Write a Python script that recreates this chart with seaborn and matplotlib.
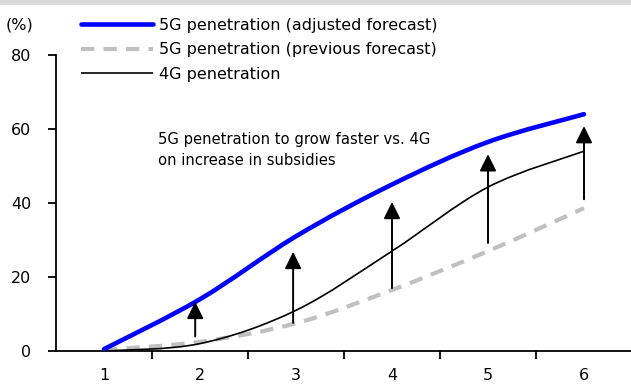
import numpy as np
import matplotlib
matplotlib.use("Agg")
import matplotlib.pyplot as plt
from matplotlib.path import Path
from matplotlib.patches import PathPatch, Rectangle
from matplotlib.lines import Line2D
import seaborn as sns

# Penetration forecasts (%) by year index
years = [1, 2, 3, 4, 5, 6]
g5_adjusted = [0.5, 14.0, 31.0, 45.0, 56.5, 64.0]
g5_previous = [0.3, 2.5, 7.5, 16.5, 27.0, 38.6]
g4_penetration = [0.0, 2.0, 11.0, 27.0, 44.3, 54.0]

# Upward arrows: (x, start, end)
arrow_x = [1.95, 2.97, 4.0, 5.0, 6.0]
arrow_from = [3.9, 7.6, 17.0, 29.2, 41.0]
arrow_to = [13.3, 26.8, 40.3, 53.2, 60.8]

labels = ["5G penetration (adjusted forecast)",
          "5G penetration (previous forecast)",
          "4G penetration"]
note = "5G penetration to grow faster vs. 4G\non increase in subsidies"

sns.set_theme(style="white")
plt.rcParams["font.family"] = ["DejaVu Sans"]
plt.rcParams["text.color"] = "black"
plt.rcParams["xtick.color"] = "black"
plt.rcParams["ytick.color"] = "black"

W, H = 631, 385
fig = plt.figure(figsize=(W / 100, H / 100), dpi=100)
ax = fig.add_axes([56 / W, (H - 351) / H, (632 - 56) / W, (351 - 55) / H])

# top band
fig.patches.append(Rectangle((0, (H - 5) / H), 1, 5 / H, transform=fig.transFigure,
                             facecolor="#d9d9d9", edgecolor="none", zorder=0))


def smooth_path(xs, ys):
    """Bezier path through the points (Excel-style smoothed line)."""
    pts = np.column_stack([xs, ys]).astype(float)
    n = len(pts)
    verts = [pts[0]]
    codes = [Path.MOVETO]
    for i in range(n - 1):
        p0 = pts[i - 1] if i > 0 else pts[i]
        p1 = pts[i]
        p2 = pts[i + 1]
        p3 = pts[i + 2] if i + 2 < n else pts[i + 1]
        c1 = p1 + (p2 - p0) / 6.0
        c2 = p2 - (p3 - p1) / 6.0
        verts += [c1, c2, p2]
        codes += [Path.CURVE4] * 3
    return Path(verts, codes)


styles = [
    dict(color="#0000ff", lw=3.3, ls="-", capstyle="round"),
    dict(color="#c0c0c0", lw=3.0, ls=(0, (3.2, 2.2)), capstyle="butt"),
    dict(color="black", lw=1.2, ls="-", capstyle="butt"),
]
series = [g5_adjusted, g5_previous, g4_penetration]
for k in [1, 2, 0]:
    st = styles[k]
    patch = PathPatch(smooth_path(years, series[k]), fill=False, edgecolor=st["color"],
                      lw=st["lw"], ls=st["ls"], capstyle=st["capstyle"],
                      joinstyle="round", zorder=3)
    ax.add_patch(patch)

for x, y0, y1 in zip(arrow_x, arrow_from, arrow_to):
    ax.annotate("", xy=(x, y1), xytext=(x, y0),
                arrowprops=dict(arrowstyle="-|>,head_length=0.85,head_width=0.42",
                                color="black", lw=1.4, shrinkA=0, shrinkB=0),
                zorder=5)

ax.set_xlim(0.5, 6.5)
ax.set_ylim(0, 80)
ax.set_yticks([0, 20, 40, 60, 80])
ax.set_xticks([1.5, 2.5, 3.5, 4.5, 5.5])
ax.set_xticks(years, minor=True)
ax.set_xticklabels([], minor=False)
ax.set_xticklabels([str(y) for y in years], minor=True)
ax.tick_params(axis="x", which="major", direction="out", length=6, width=1.3, color="black")
ax.tick_params(axis="x", which="minor", length=0, pad=12, labelsize=11.5)
ax.tick_params(axis="y", direction="out", length=6, width=1.3, color="black",
               pad=12, labelsize=11.5)
ax.tick_params(left=True, bottom=True)
sns.despine(ax=ax)
for s in ["left", "bottom"]:
    ax.spines[s].set_color("black")
    ax.spines[s].set_linewidth(1.3)
ax.set_facecolor("white")

ax.text(1.56, 54.3, note, fontsize=10.6, va="center", ha="left", linespacing=1.45)

fig.text(6 / W, 1 - 25 / H, "(%)", fontsize=11.5, va="center", ha="left")

handles = [Line2D([], [], color=st["color"], lw=st["lw"], ls=st["ls"],
                  solid_capstyle=st["capstyle"]) for st in styles]
leg = fig.legend(handles, labels, loc="upper left",
                 bbox_to_anchor=(81 / W, 1 - 18 / H), frameon=False,
                 fontsize=11.5, handlelength=4.5, handletextpad=0.4,
                 labelspacing=0.58, borderpad=0, borderaxespad=0)

fig.savefig("out.png", dpi=100, facecolor="white")
